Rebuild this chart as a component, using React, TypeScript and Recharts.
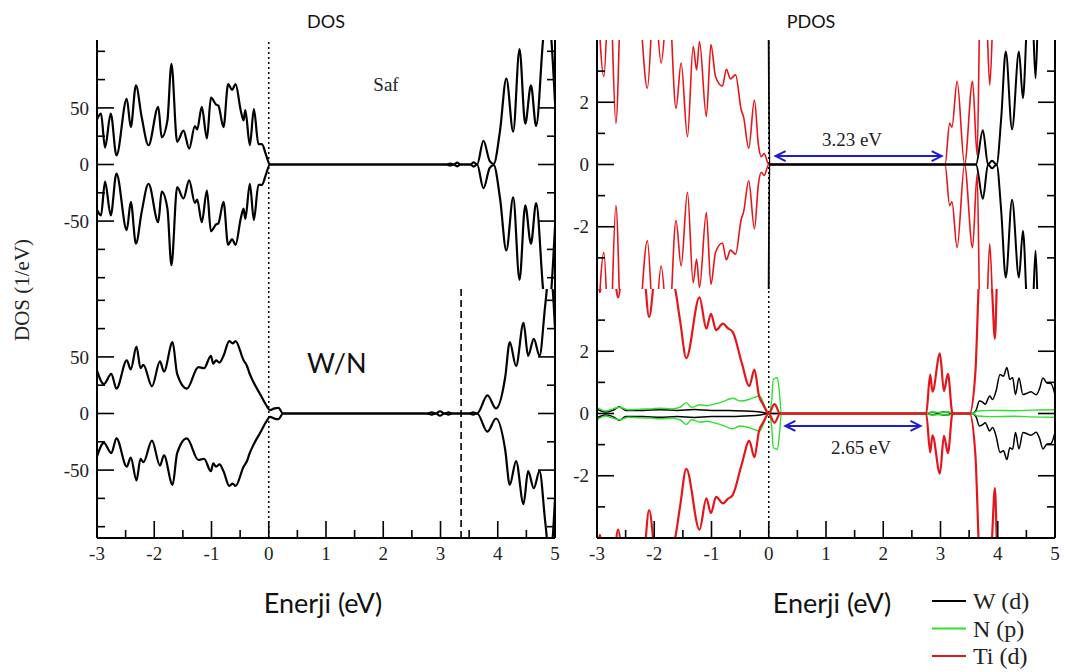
import React from 'react';
import { LineChart, Line, XAxis, YAxis, ReferenceLine } from 'recharts';

// Energies (eV) and DOS values at peaks / troughs.
// Top-left: total DOS, pure ("Saf")
const safE = [-3.0, -2.93, -2.86, -2.76, -2.66, -2.48, -2.41, -2.32, -2.22, -2.1, -1.93, -1.87, -1.77, -1.7, -1.6, -1.49, -1.39, -1.29, -1.25, -1.17, -1.08, -1.01, -0.92, -0.88, -0.79, -0.71, -0.64, -0.58, -0.49, -0.44, -0.41, -0.33, -0.26, -0.18, -0.12, -0.05, 0.02, 3.1, 3.17, 3.23, 3.29, 3.35, 3.52, 3.58, 3.64, 3.75, 3.86, 3.93, 4.04, 4.15, 4.27, 4.38, 4.48, 4.58, 4.67, 4.8, 4.87, 4.93, 5.0];
const safUp = [40, 45, 15, 45, 8, 58, 33, 70, 42, 17, 51, 24, 39, 89, 20, 30, 14, 34, 31, 51, 23, 59, 53, 52, 33, 71, 66, 71, 48, 39, 48, 17, 49, 18, 18, 9, 0, 0, 0.8, 0, 1.6, 0, 0, 1.8, 0, 21, 3, 0.5, 30, 76, 29, 102, 36, 70, 34, 115, 140, 115, 55];
const safDown = [-40, -45, -15, -45, -8, -58, -33, -70, -42, -17, -51, -24, -39, -89, -20, -30, -14, -34, -31, -51, -23, -59, -53, -52, -33, -71, -66, -71, -48, -39, -48, -17, -49, -18, -18, -9, 0, 0, -0.8, 0, -1.6, 0, 0, -1.8, 0, -21, -3, -0.5, -30, -76, -29, -102, -36, -70, -34, -115, -140, -115, -55];

// Bottom-left: total DOS, W/N
const wnE = [-3.0, -2.88, -2.75, -2.66, -2.48, -2.41, -2.31, -2.24, -2.19, -2.04, -1.9, -1.83, -1.68, -1.6, -1.43, -1.23, -1.13, -1.01, -0.97, -0.92, -0.86, -0.79, -0.69, -0.63, -0.58, -0.44, -0.38, -0.34, -0.27, -0.15, -0.04, 0.02, 0.1, 0.17, 0.25, 2.75, 2.85, 2.92, 2.99, 3.07, 3.14, 3.2, 3.5, 3.57, 3.64, 3.82, 3.97, 4.13, 4.21, 4.32, 4.45, 4.53, 4.63, 4.73, 4.83, 4.9, 4.95, 5.0];
const wnUp = [38, 26, 35, 22, 47, 39, 59, 40, 43, 24, 46, 37, 63, 35, 22, 41, 40, 51, 44, 47, 45, 51, 64, 62, 64, 47, 42, 36, 28, 17, 7, 3, 4.5, 5, 0, 0, 1, 0, 2, 0, 1, 0, 0, 1, 0, 16, 4.4, 32, 63, 42, 80, 51, 66, 51, 96, 125, 115, 75];
const wnDown = [-38, -26, -35, -22, -47, -39, -59, -40, -43, -24, -46, -37, -63, -35, -22, -41, -40, -51, -44, -47, -45, -51, -64, -62, -64, -47, -42, -36, -28, -17, -7, -3, -4.5, -5, 0, 0, -1, 0, -2, 0, -1, 0, 0, -1, 0, -16, -4.4, -32, -63, -42, -80, -51, -66, -51, -96, -125, -115, -75];

// Top-right: PDOS, pure. Ti (d) and W (d)
const tiSafE = [-3.0, -2.88, -2.78, -2.67, -2.55, -2.3, -2.12, -2.0, -1.88, -1.75, -1.62, -1.53, -1.42, -1.32, -1.26, -1.21, -1.09, -1.01, -0.93, -0.81, -0.74, -0.67, -0.58, -0.48, -0.44, -0.35, -0.25, -0.18, -0.13, -0.08, 0.0, 3.08, 3.16, 3.2, 3.29, 3.42, 3.56, 3.64, 3.7, 3.8, 3.86, 3.92, 4.0, 4.5, 5.0];
const tiSafUp = [6, 2.83, 6, 1.32, 7, 6, 2.45, 5.5, 3.26, 5.5, 1.8, 3.26, 0.89, 3.8, 3.04, 3.95, 1.54, 3.85, 2.83, 2.52, 3.06, 2.75, 2.88, 1.75, 1.53, 0.52, 2.07, 0.62, 0.25, 0.35, 0, 0, 1.32, 1.2, 2.67, 0, 2.67, 0.3, 6, 5, 2.55, 5, 8, 9, 9];
const tiSafDown = [-6, -2.83, -6, -1.32, -7, -6, -2.45, -5.5, -3.26, -5.5, -1.8, -3.26, -0.89, -3.8, -3.04, -3.95, -1.54, -3.85, -2.83, -2.52, -3.06, -2.75, -2.88, -1.75, -1.53, -0.52, -2.07, -0.62, -0.25, -0.35, 0, 0, -1.32, -1.2, -2.67, 0, -2.67, -0.3, -6, -5, -2.55, -5, -8, -9, -9];
const wSafE = [-0.01, 0.01, 3.62, 3.74, 3.83, 3.9, 3.98, 4.06, 4.14, 4.25, 4.37, 4.44, 4.53, 4.6, 4.66, 4.72, 4.85, 5.0];
const wSafUp = [9, 0, 0, 1.1, 0, 0.12, 0, 1.48, 3.63, 1.13, 3.63, 2.13, 5, 5, 2.77, 5.5, 6, 6];
const wSafDown = [-9, 0, 0, -1.1, 0, -0.12, 0, -1.48, -3.63, -1.13, -3.63, -2.13, -5, -5, -2.77, -5.5, -6, -6];

// Bottom-right: PDOS, W/N. W (d), N (p), Ti (d)
const wWnE = [-3.0, -2.85, -2.72, -2.61, -2.5, -2.2, -1.9, -1.6, -1.3, -1.0, -0.7, -0.4, -0.15, 0.0, 2.75, 2.85, 2.95, 3.05, 3.15, 3.22, 3.55, 3.62, 3.68, 3.74, 3.78, 3.86, 3.91, 3.97, 4.04, 4.1, 4.16, 4.21, 4.26, 4.31, 4.37, 4.44, 4.51, 4.58, 4.67, 4.73, 4.79, 4.86, 4.93, 5.0];
const wWnUp = [0.14, 0.05, 0.1, 0.22, 0.1, 0.1, 0.12, 0.1, 0.13, 0.1, 0.1, 0.08, 0.05, 0, 0, 0.04, 0.02, 0.05, 0.03, 0, 0, 0.1, 0.4, 0.36, 0.3, 0.56, 0.45, 0.72, 1.25, 1.2, 1.48, 1.1, 1.15, 0.61, 1.14, 0.61, 0.65, 0.7, 0.6, 0.8, 1.14, 0.98, 0.96, 0.6];
const wWnDown = [-0.14, -0.05, -0.1, -0.22, -0.1, -0.1, -0.12, -0.1, -0.13, -0.1, -0.1, -0.08, -0.05, 0, 0, -0.04, -0.02, -0.05, -0.03, 0, 0, -0.1, -0.4, -0.36, -0.3, -0.56, -0.45, -0.72, -1.25, -1.2, -1.48, -1.1, -1.15, -0.61, -1.14, -0.61, -0.65, -0.7, -0.6, -0.8, -1.14, -0.98, -0.96, -0.6];
const nWnE = [-3.0, -2.85, -2.72, -2.61, -2.45, -2.25, -2.05, -1.9, -1.7, -1.55, -1.44, -1.35, -1.2, -1.08, -0.95, -0.8, -0.63, -0.5, -0.35, -0.25, -0.16, -0.05, 0.0, 0.05, 0.08, 0.15, 0.19, 0.22, 2.75, 2.85, 3.0, 3.15, 3.22, 3.55, 3.65, 3.9, 4.3, 4.6, 5.0];
const nWnUp = [0.2, 0.08, 0.15, 0.2, 0.12, 0.14, 0.15, 0.17, 0.15, 0.2, 0.35, 0.2, 0.28, 0.25, 0.3, 0.38, 0.49, 0.4, 0.45, 0.52, 0.56, 0.15, 0, 0.4, 1.1, 1.15, 0.6, 0, 0, 0.05, 0.03, 0.05, 0, 0, 0.08, 0.1, 0.09, 0.11, 0.12];
const nWnDown = [-0.2, -0.08, -0.15, -0.2, -0.12, -0.14, -0.15, -0.17, -0.15, -0.2, -0.35, -0.2, -0.28, -0.25, -0.3, -0.38, -0.49, -0.4, -0.45, -0.52, -0.56, -0.15, 0, -0.4, -1.1, -1.15, -0.6, 0, 0, -0.05, -0.03, -0.05, 0, 0, -0.08, -0.1, -0.09, -0.11, -0.12];
const tiWnE = [-3.0, -2.95, -2.85, -2.72, -2.63, -2.5, -2.2, -2.09, -1.95, -1.82, -1.65, -1.55, -1.44, -1.21, -1.09, -1.01, -0.92, -0.8, -0.72, -0.63, -0.47, -0.34, -0.25, -0.17, -0.1, 0.0, 0.1, 0.2, 2.75, 2.82, 2.86, 2.99, 3.06, 3.13, 3.21, 3.51, 3.61, 3.69, 3.8, 3.9, 3.95, 4.0, 4.5, 5.0];
const tiWnUp = [5, 3.9, 6, 5, 3.73, 6, 5, 3.1, 5, 4.5, 4.1, 3.0, 1.78, 3.73, 2.73, 3.2, 2.68, 2.89, 2.75, 2.62, 1.62, 0.88, 1.41, 0.56, 0.3, 0, 0.3, 0, 0, 1.25, 0.7, 1.93, 0.72, 1.27, 0, 0, 1.35, 5, 6, 4, 2.4, 5, 9, 9];
const tiWnDown = [-5, -3.9, -6, -5, -3.73, -6, -5, -3.1, -5, -4.5, -4.1, -3.0, -1.78, -3.73, -2.73, -3.2, -2.68, -2.89, -2.75, -2.62, -1.62, -0.88, -1.41, -0.56, -0.3, 0, -0.3, 0, 0, -1.25, -0.7, -1.93, -0.72, -1.27, 0, 0, -1.35, -5, -6, -4, -2.4, -5, -9, -9];

// axes
const xTicks = [-3, -2.5, -2, -1.5, -1, -0.5, 0, 0.5, 1, 1.5, 2, 2.5, 3, 3.5, 4, 4.5, 5];
const dosTicks = [-100, -75, -50, -25, 0, 25, 50, 75, 100];
const dosMajor = [-50, 0, 50];
const pdosTicks = [-3, -2, -1, 0, 1, 2, 3];
const pdosMajor = [-2, 0, 2];

// gap arrows (eV, state value)
const gapSaf = [{ x: 0.12, y: 0.27 }, { x: 3.02, y: 0.27 }];
const gapWn = [{ x: 0.29, y: -0.4 }, { x: 2.65, y: -0.4 }];

const legendItems = [
  { label: 'W (d)', color: '#000' },
  { label: 'N (p)', color: '#2fe02f' },
  { label: 'Ti (d)', color: '#e5161b' },
];

const RED = '#e5161b';
const GREEN = '#2fe02f';
const BLUE = '#1c1cd0';
const SERIF = '"Liberation Serif", "Times New Roman", serif';
const SANS = 'Lato, "Open Sans", sans-serif';

const rows = (e: number[], v: number[]) => e.map((x, i) => ({ e: x, v: v[i] }));

const leftTick = (major: number[]) => (p: any) => {
  const big = major.includes(p.payload.value);
  return (
    <g>
      <line x1={p.x} x2={p.x + (big ? 17 : 8)} y1={p.y} y2={p.y} stroke="#000" strokeWidth={1.6} />
      {big && (
        <text x={p.x - 8} y={p.y} dy="0.35em" textAnchor="end" fontFamily={SERIF} fontSize={19} fill="#222">
          {p.payload.value}
        </text>
      )}
    </g>
  );
};

const rightTick = (major: number[]) => (p: any) => {
  const big = major.includes(p.payload.value);
  return <line x1={p.x} x2={p.x - (big ? 17 : 8)} y1={p.y} y2={p.y} stroke="#000" strokeWidth={1.6} />;
};

const bottomTick = (p: any) => {
  const big = Number.isInteger(p.payload.value);
  return (
    <g>
      <line x1={p.x} x2={p.x} y1={p.y} y2={p.y - (big ? 17 : 8)} stroke="#000" strokeWidth={1.6} />
      {big && (
        <text x={p.x} y={p.y + 9} dy="0.71em" textAnchor="middle" fontFamily={SERIF} fontSize={19} fill="#222">
          {p.payload.value}
        </text>
      )}
    </g>
  );
};

const GapArrow = (p: any) => {
  const { x1, y1, x2, y2 } = p;
  return (
    <g stroke={BLUE} strokeWidth={2} fill="none">
      <line x1={x1} y1={y1} x2={x2} y2={y2} />
      <polyline points={`${x1 + 10},${y1 - 5} ${x1},${y1} ${x1 + 10},${y1 + 5}`} />
      <polyline points={`${x2 - 10},${y2 - 5} ${x2},${y2} ${x2 - 10},${y2 + 5}`} />
    </g>
  );
};

type Series = { e: number[]; up: number[]; down: number[]; color: string; width: number; key: string };

function Panel({
  left,
  top,
  showX,
  domain,
  ticks,
  major,
  series,
  extras,
}: {
  left: number;
  top: number;
  showX: boolean;
  domain: [number, number];
  ticks: number[];
  major: number[];
  series: Series[];
  extras: React.ReactNode[];
}) {
  const frame = { stroke: '#000', strokeWidth: 2 };
  return (
    <div style={{ position: 'absolute', left, top }}>
      <LineChart
        width={524}
        height={showX ? 289 : 259}
        margin={{ top: 5, right: 5, bottom: showX ? 0 : 5, left: 0 }}
      >
        <XAxis
          dataKey="e"
          type="number"
          domain={[-3, 5]}
          ticks={xTicks}
          interval={0}
          allowDataOverflow
          height={showX ? 35 : 0}
          axisLine={frame}
          tickLine={false}
          tickSize={0}
          tickMargin={0}
          tick={showX ? bottomTick : false}
        />
        <XAxis xAxisId="top" orientation="top" type="number" domain={[-3, 5]} height={0} axisLine={frame} tick={false} tickLine={false} />
        <YAxis
          type="number"
          domain={domain}
          ticks={ticks}
          interval={0}
          allowDataOverflow
          width={60}
          axisLine={frame}
          tickLine={false}
          tickSize={0}
          tickMargin={0}
          tick={leftTick(major)}
        />
        <YAxis
          yAxisId="r"
          orientation="right"
          type="number"
          domain={domain}
          ticks={ticks}
          interval={0}
          allowDataOverflow
          width={1}
          axisLine={frame}
          tickLine={false}
          tickSize={0}
          tickMargin={0}
          tick={rightTick(major)}
        />
        {extras}
        {series.flatMap((s) => [
          <Line
            key={s.key + 'up'}
            data={rows(s.e, s.up)}
            dataKey="v"
            type="monotone"
            stroke={s.color}
            strokeWidth={s.width}
            dot={false}
            activeDot={false}
            isAnimationActive={false}
          />,
          <Line
            key={s.key + 'dn'}
            data={rows(s.e, s.down)}
            dataKey="v"
            type="monotone"
            stroke={s.color}
            strokeWidth={s.width}
            dot={false}
            activeDot={false}
            isAnimationActive={false}
          />,
        ])}
      </LineChart>
    </div>
  );
}

const zeroLine = (k: string) => (
  <ReferenceLine key={k} x={0} stroke="#000" strokeWidth={1.5} strokeDasharray="2 3" />
);

export default function App() {
  return (
    <div style={{ position: 'absolute', left: 0, top: 0, width: 1074, height: 672, background: '#fff' }}>
      <Panel
        left={37}
        top={35}
        showX={false}
        domain={[-110, 110]}
        ticks={dosTicks}
        major={dosMajor}
        series={[{ key: 'saf', e: safE, up: safUp, down: safDown, color: '#000', width: 2.2 }]}
        extras={[zeroLine('z1')]}
      />
      <Panel
        left={37}
        top={284}
        showX
        domain={[-110, 110]}
        ticks={dosTicks}
        major={dosMajor}
        series={[{ key: 'wn', e: wnE, up: wnUp, down: wnDown, color: '#000', width: 2.2 }]}
        extras={[
          zeroLine('z2'),
          <ReferenceLine key="d" x={3.36} stroke="#000" strokeWidth={1.6} strokeDasharray="7 4" />,
        ]}
      />
      <Panel
        left={537}
        top={35}
        showX={false}
        domain={[-4, 4]}
        ticks={pdosTicks}
        major={pdosMajor}
        series={[
          { key: 'tiS', e: tiSafE, up: tiSafUp, down: tiSafDown, color: RED, width: 1.6 },
          { key: 'wS', e: wSafE, up: wSafUp, down: wSafDown, color: '#000', width: 2 },
        ]}
        extras={[zeroLine('z3'), <ReferenceLine key="g1" segment={gapSaf} shape={GapArrow} />]}
      />
      <Panel
        left={537}
        top={284}
        showX
        domain={[-4, 4]}
        ticks={pdosTicks}
        major={pdosMajor}
        series={[
          { key: 'wW', e: wWnE, up: wWnUp, down: wWnDown, color: '#000', width: 1.5 },
          { key: 'nW', e: nWnE, up: nWnUp, down: nWnDown, color: GREEN, width: 1.4 },
          { key: 'tiW', e: tiWnE, up: tiWnUp, down: tiWnDown, color: RED, width: 2.2 },
        ]}
        extras={[zeroLine('z4'), <ReferenceLine key="g2" segment={gapWn} shape={GapArrow} />]}
      />

      <svg width={1074} height={672} style={{ position: 'absolute', left: 0, top: 0, pointerEvents: 'none' }}>
        <text x={326} y={28} textAnchor="middle" fontFamily={SANS} fontSize={18} fill="#111">DOS</text>
        <text x={811} y={28} textAnchor="middle" fontFamily={SANS} fontSize={18} fill="#111">PDOS</text>
        <text x={323} y={613} textAnchor="middle" fontFamily={SANS} fontSize={27} fill="#111">Enerji (eV)</text>
        <text x={832} y={613} textAnchor="middle" fontFamily={SANS} fontSize={27} fill="#111">Enerji (eV)</text>
        <text
          x={22}
          y={290}
          textAnchor="middle"
          dominantBaseline="central"
          transform="rotate(-90 22 290)"
          fontFamily={SERIF}
          fontSize={21}
          fill="#222"
        >
          DOS (1/eV)
        </text>
        <text x={386} y={91} textAnchor="middle" fontFamily={SERIF} fontSize={19} fill="#222">Saf</text>
        <text x={307} y={373} fontFamily={SANS} fontSize={27} fill="#111">W/N</text>
        <text x={852} y={146} textAnchor="middle" fontFamily={SERIF} fontSize={19} fill="#222">3.23 eV</text>
        <text x={861} y={454} textAnchor="middle" fontFamily={SERIF} fontSize={19} fill="#222">2.65 eV</text>

        {legendItems.map((it, i) => (
          <g key={it.label}>
            <line x1={932} x2={966} y1={601 + i * 27.5} y2={601 + i * 27.5} stroke={it.color} strokeWidth={2} />
            <text x={973} y={609 + i * 27.5} fontFamily={SERIF} fontSize={24} fill="#222">{it.label}</text>
          </g>
        ))}
      </svg>
    </div>
  );
}
